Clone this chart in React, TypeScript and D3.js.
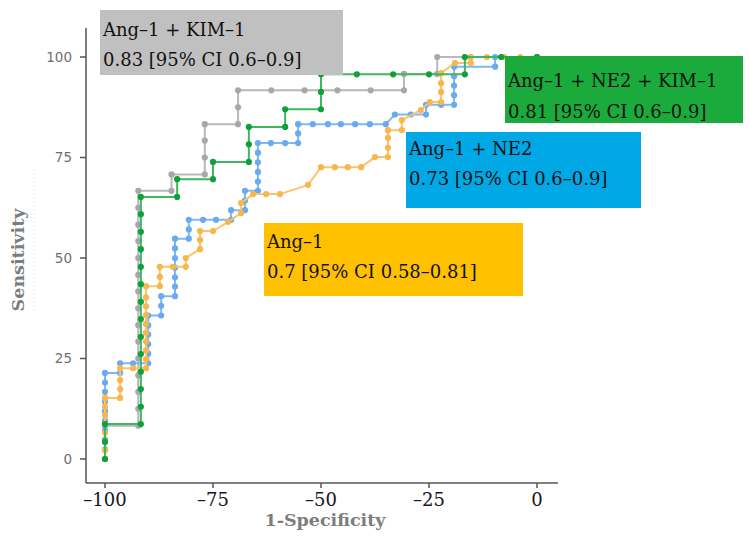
import React from 'react';
import * as d3 from 'd3';

const xTicks = [-100, -75, -50, -25, 0];
const yTicks = [0, 25, 50, 75, 100];

// points are [1-specificity, sensitivity], in percent
const ang1Kim1: [number, number][] = [
  [-100, 0], [-100, 4.2], [-100, 8.3], [-92.3, 8.3], [-92.3, 12.5], [-92.3, 16.7], [-92.3, 20.8],
  [-92.3, 25], [-92.3, 29.2], [-92.3, 33.3], [-92.3, 37.5], [-92.3, 41.7], [-92.3, 45.8], [-92.3, 50],
  [-92.3, 54.2], [-92.3, 58.3], [-92.3, 62.5], [-92.3, 66.7], [-84.6, 66.7], [-84.6, 70.8], [-76.9, 70.8],
  [-76.9, 75], [-76.9, 79.2], [-76.9, 83.3], [-69.2, 83.3], [-69.2, 87.5], [-69.2, 91.7], [-61.5, 91.7],
  [-53.8, 91.7], [-46.2, 91.7], [-38.5, 91.7], [-30.8, 91.7], [-30.8, 95.8], [-23.1, 95.8], [-23.1, 100],
  [-15.4, 100], [-7.7, 100], [0, 100],
];

const ang1Ne2: [number, number][] = [
  [-100, 0], [-100, 2.4], [-100, 4.8], [-100, 7.1], [-100, 9.5], [-100, 11.9], [-100, 14.3], [-100, 16.7],
  [-100, 19], [-100, 21.4], [-96.5, 21.4], [-96.5, 23.8], [-93.5, 23.8], [-90, 23.8], [-90, 26.2], [-90, 28.6],
  [-90, 31], [-90, 33.3], [-90, 35.7], [-87, 35.7], [-87, 38.1], [-87, 40.5], [-83.8, 40.5], [-83.8, 42.9],
  [-83.8, 45.2], [-83.8, 47.6], [-83.8, 50], [-83.8, 52.4], [-83.8, 54.8], [-80.6, 54.8], [-80.6, 57.1],
  [-80.6, 59.5], [-77.3, 59.5], [-74.3, 59.5], [-70.8, 59.5], [-70.8, 61.9], [-67.6, 61.9], [-67.6, 64.3],
  [-67.6, 66.7], [-64.6, 66.7], [-64.6, 69], [-64.6, 71.4], [-64.6, 73.8], [-64.6, 76.2], [-64.6, 78.6],
  [-61.6, 78.6], [-58.3, 78.6], [-55.3, 78.6], [-55.3, 81], [-55.3, 83.3], [-51.9, 83.3], [-48.4, 83.3],
  [-45.4, 83.3], [-42.1, 83.3], [-38.7, 83.3], [-35, 83.3], [-32.9, 85.7], [-29.2, 85.7], [-25.7, 85.7],
  [-25.7, 88.1], [-22.2, 88.1], [-19.2, 88.1], [-19.2, 90.5], [-19.2, 92.9], [-19.2, 95.2], [-19.2, 97.6],
  [-9.7, 97.6], [-9.7, 100], [0, 100],
];

const ang1: [number, number][] = [
  [-100, 0], [-100, 2.2], [-100, 4.4], [-100, 6.5], [-100, 8.7], [-100, 10.9], [-100, 13], [-100, 15.2],
  [-96.5, 15.2], [-96.5, 17.4], [-96.5, 19.6], [-96.5, 22.6], [-93.5, 22.6], [-90.5, 22.6], [-90.5, 24.8],
  [-90.5, 27], [-90.5, 29.2], [-90.5, 31.4], [-90.5, 33.6], [-90.5, 35.8], [-90.5, 38], [-90.5, 40.2],
  [-90.5, 43], [-87.3, 43], [-87.3, 45.3], [-87.3, 47.8], [-84.3, 47.8], [-81.3, 47.8], [-81.3, 50],
  [-78, 52.2], [-78, 54.5], [-78, 56.7], [-75, 56.7], [-71.5, 59], [-68.5, 61.2], [-68.5, 63.7],
  [-65.7, 65.9], [-62.7, 65.9], [-59.5, 65.9], [-53, 68.2], [-50, 72.6], [-46.8, 72.6], [-43.8, 72.6],
  [-40.7, 72.6], [-37.5, 75.1], [-34.5, 75.1], [-34.5, 77.4], [-34.5, 79.9], [-34.5, 81.8], [-31.3, 81.8],
  [-31.3, 84.3], [-26.9, 86.8], [-24.8, 88.8], [-22.2, 88.8], [-22.2, 91.3], [-22.2, 93.5], [-22.2, 96],
  [-19, 98.5], [-15.3, 98.5], [-15.3, 100], [-11.6, 100], [-7.7, 100], [-3.9, 100], [0, 100],
];

const ang1Ne2Kim1: [number, number][] = [
  [-100, 0], [-100, 4.3], [-100, 8.7], [-91.7, 8.7], [-91.7, 13], [-91.7, 17.4], [-91.7, 21.7], [-91.7, 26.1],
  [-91.7, 30.4], [-91.7, 34.8], [-91.7, 39.1], [-91.7, 43.5], [-91.7, 47.8], [-91.7, 52.2], [-91.7, 56.5],
  [-91.7, 60.9], [-91.7, 65.2], [-83.3, 65.2], [-83.3, 69.6], [-75, 69.6], [-75, 73.9], [-66.7, 73.9],
  [-66.7, 78.3], [-66.7, 82.6], [-58.3, 82.6], [-58.3, 87], [-50, 87], [-50, 91.3], [-50, 95.7],
  [-41.7, 95.7], [-33.3, 95.7], [-25, 95.7], [-16.7, 95.7], [-16.7, 100], [-8.3, 100], [0, 100],
];

const seriesNames = ['Ang–1 + KIM–1', 'Ang–1 + NE2', 'Ang–1', 'Ang–1 + NE2 + KIM–1'];
const aucLabels = ['0.83 [95% CI 0.6–0.9]', '0.73 [95% CI 0.6–0.9]', '0.7 [95% CI 0.58–0.81]', '0.81 [95% CI 0.6–0.9]'];

// drawing order: gray, blue, orange, green
const curves = [
  { data: ang1Kim1, line: '#b8b8b8', dot: '#a8a8a8' },
  { data: ang1Ne2, line: '#80b8f2', dot: '#6aaaf0' },
  { data: ang1, line: '#f9c46e', dot: '#f8b64c' },
  { data: ang1Ne2Kim1, line: '#3cb860', dot: '#10a03a' },
];

const boxes = [
  { x: 100, y: 10, w: 243, h: 65, fill: '#c0c0c0', l1: 26, l2: 56 },
  { x: 406, y: 132, w: 235, h: 76, fill: '#00a9e6', l1: 23, l2: 53 },
  { x: 264, y: 223, w: 259, h: 73, fill: '#ffc000', l1: 25, l2: 55 },
  { x: 505, y: 56, w: 238, h: 67, fill: '#1aab3c', l1: 31, l2: 62 },
];

const serif = '"DejaVu Serif", serif';

export default function App() {
  const x = d3.scaleLinear().domain([-100, 0]).range([105, 537]);
  const y = d3.scaleLinear().domain([0, 100]).range([459, 57]);
  const line = d3.line<[number, number]>().x(d => x(d[0])).y(d => y(d[1]));

  const axisX = 86;
  const axisY = 483;

  return (
    <svg width={750} height={545} style={{ position: 'absolute', left: 0, top: 0, background: '#fff' }}>
      {/* axes */}
      <line x1={axisX} x2={axisX} y1={28} y2={axisY} stroke="#555" strokeWidth={1.5} />
      <line x1={axisX} x2={558} y1={axisY} y2={axisY} stroke="#555" strokeWidth={1.5} />
      {yTicks.map(t => (
        <g key={'y' + t}>
          <line x1={axisX - 6} x2={axisX} y1={y(t)} y2={y(t)} stroke="#555" strokeWidth={1.5} />
          <text x={72} y={y(t)} dy="0.35em" textAnchor="end" fontFamily='"DejaVu Sans", sans-serif'
            fontSize={13.5} fill="#6e6e6e">{t}</text>
        </g>
      ))}
      {xTicks.map(t => (
        <g key={'x' + t}>
          <line x1={x(t)} x2={x(t)} y1={axisY} y2={axisY + 5} stroke="#555" strokeWidth={1.5} />
          <text x={x(t)} y={506} textAnchor="middle" fontFamily={serif} fontSize={18} fill="#151525">
            {t < 0 ? '–' + Math.abs(t) : t}
          </text>
        </g>
      ))}
      <text x={325} y={526} textAnchor="middle" fontFamily={serif} fontWeight="bold" fontSize={17.5}
        fill="#7d7d7d">1-Specificity</text>
      <text transform="translate(24,260) rotate(-90)" textAnchor="middle" fontFamily={serif}
        fontWeight="bold" fontSize={17.5} fill="#7d7d7d">Sensitivity</text>
      <line x1={34} x2={34} y1={170} y2={312} stroke="#c8f4fa" strokeWidth={1.5} strokeDasharray="1 3" />

      {/* ROC curves */}
      {curves.map((c, i) => (
        <g key={'c' + i}>
          <path d={line(c.data) || ''} fill="none" stroke={c.line} strokeWidth={2} />
          {c.data.map((d, j) => (
            <circle key={j} cx={x(d[0])} cy={y(d[1])} r={3.1} fill={c.dot} />
          ))}
        </g>
      ))}

      {/* AUC boxes */}
      {boxes.map((b, i) => (
        <g key={'b' + i}>
          <rect x={b.x} y={b.y} width={b.w} height={b.h} fill={b.fill} />
          <text x={b.x + 3} y={b.y + b.l1} fontFamily={serif} fontSize={18} fill="#111">{seriesNames[i]}</text>
          <text x={b.x + 3} y={b.y + b.l2} fontFamily={serif} fontSize={18} fill="#111">{aucLabels[i]}</text>
        </g>
      ))}
    </svg>
  );
}
